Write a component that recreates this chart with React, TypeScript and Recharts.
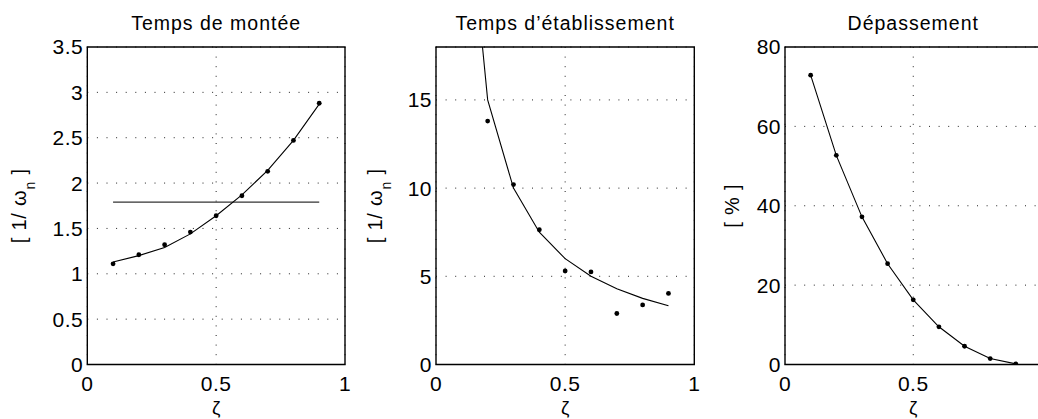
import React from 'react';
import { LineChart, Line, XAxis, YAxis, CartesianGrid, ReferenceArea, ReferenceLine } from 'recharts';

// damping ratio values where the step responses were measured
const zeta = [0.1, 0.2, 0.3, 0.4, 0.5, 0.6, 0.7, 0.8, 0.9];

// rise time [1/wn]
const riseMeasured = [1.11, 1.21, 1.32, 1.46, 1.64, 1.86, 2.13, 2.47, 2.88];
const riseFit = [1.13, 1.2, 1.29, 1.44, 1.64, 1.87, 2.14, 2.47, 2.87];
const riseMean = 1.79;
const riseTicks = [0, 0.5, 1, 1.5, 2, 2.5, 3, 3.5];

// settling time [1/wn]
const settleMeasured = [null, 13.8, 10.2, 7.64, 5.3, 5.25, 2.89, 3.38, 4.03];
const settleFit = [30, 15, 10, 7.5, 6, 5, 4.29, 3.75, 3.33];
const settleTicks = [0, 5, 10, 15];

// overshoot [%]
const overshoot = [72.9, 52.7, 37.2, 25.4, 16.3, 9.5, 4.6, 1.5, 0.15];
const overshootTicks = [0, 20, 40, 60, 80];

const xTicks = [0, 0.5, 1];
// the last panel is cut by the figure edge, its "1" is not visible
const xTicksCut = [0, 0.5];

const FONT = '"Liberation Sans", Arial, Helvetica, sans-serif';
const tickStyle = { fontSize: 21, fill: '#000', fontFamily: FONT, letterSpacing: 0.5 };

const riseData = zeta.map((z, i) => ({ z, m: riseMeasured[i], f: riseFit[i] }));
const settleData = zeta.map((z, i) => ({ z, m: settleMeasured[i], f: settleFit[i] }));
const overshootData = zeta.map((z, i) => ({ z, m: overshoot[i], f: overshoot[i] }));

const Y_AXIS_W = 40;
const X_AXIS_H = 40;
const PLOT_TOP = 47;
const PLOT_BOTTOM = 364.5;

type PanelProps = {
  left: number;
  width: number;
  plotLeft: number;
  plotRight: number;
  data: any[];
  xTickValues: number[];
  yMax: number;
  yTicks: number[];
  title: string;
  yLabelX: number;
  percent?: boolean;
  children?: React.ReactNode;
};

const Panel = ({
  left,
  width,
  plotLeft,
  plotRight,
  data,
  xTickValues,
  yMax,
  yTicks,
  title,
  yLabelX,
  percent,
  children,
}: PanelProps) => {
  const margin = {
    top: PLOT_TOP,
    right: width - plotRight,
    bottom: 419 - PLOT_BOTTOM - X_AXIS_H,
    left: plotLeft - Y_AXIS_W,
  };
  const cx = (plotLeft + plotRight) / 2;
  const cy = (PLOT_TOP + PLOT_BOTTOM) / 2;
  const labelProps = {
    transform: `translate(${yLabelX},${cy}) rotate(-90)`,
    textAnchor: 'middle' as const,
    fontSize: 20,
    fontFamily: FONT,
    letterSpacing: 0.8,
    fill: '#000',
  };
  return (
    <div style={{ position: 'absolute', left, top: 0 }}>
      <LineChart width={width} height={419} data={data} margin={margin}>
        <CartesianGrid stroke="#222" strokeDasharray="1 8.6" />
        <XAxis
          dataKey="z"
          type="number"
          domain={[0, 1]}
          ticks={xTickValues}
          interval={0}
          height={X_AXIS_H}
          tickSize={0}
          tickMargin={12}
          axisLine={false}
          fontSize={21}
          tick={tickStyle}
        />
        <YAxis
          type="number"
          domain={[0, yMax]}
          ticks={yTicks}
          interval={0}
          allowDataOverflow
          width={Y_AXIS_W}
          tickSize={0}
          tickMargin={4}
          axisLine={false}
          fontSize={21}
          tick={tickStyle}
        />
        <ReferenceArea x1={0} x2={1} y1={0} y2={yMax} fill="none" stroke="#000" strokeWidth={1.4} />
        {children}
        <Line dataKey="f" stroke="#000" strokeWidth={1.1} dot={false} isAnimationActive={false} type="linear" />
        <Line
          dataKey="m"
          stroke="none"
          dot={{ r: 2.4, fill: '#000', stroke: 'none' }}
          isAnimationActive={false}
          type="linear"
        />
        <text x={cx} y={29.5} textAnchor="middle" fontSize={19.5} fontFamily={FONT} letterSpacing={1} fill="#000">
          {title}
        </text>
        <text x={cx} y={414} textAnchor="middle" fontSize={19} fontFamily={FONT} fill="#000">
          ζ
        </text>
        {percent ? (
          <text {...labelProps}>[ % ]</text>
        ) : (
          <text {...labelProps}>
            [ 1/ ω
            <tspan dy={9} fontSize={14}>n</tspan>
            <tspan dy={-9}> ]</tspan>
          </text>
        )}
      </LineChart>
    </div>
  );
};

export default function App() {
  return (
    <div
      style={{
        position: 'absolute',
        left: 0,
        top: 0,
        width: 1038,
        height: 419,
        overflow: 'hidden',
        background: '#fff',
      }}
    >
      <Panel
        left={0}
        width={360}
        plotLeft={87.3}
        plotRight={345}
        data={riseData}
        xTickValues={xTicks}
        yMax={3.5}
        yTicks={riseTicks}
        title="Temps de montée"
        yLabelX={26}
      >
        <ReferenceLine
          segment={[
            { x: 0.1, y: riseMean },
            { x: 0.9, y: riseMean },
          ]}
          stroke="#333"
          strokeWidth={1.4}
        />
      </Panel>
      <Panel
        left={360}
        width={345}
        plotLeft={76}
        plotRight={334.3}
        data={settleData}
        xTickValues={xTicks}
        yMax={18}
        yTicks={settleTicks}
        title="Temps d’établissement"
        yLabelX={21.7}
      />
      <Panel
        left={705}
        width={345}
        plotLeft={80}
        plotRight={336.5}
        data={overshootData}
        xTickValues={xTicksCut}
        yMax={80}
        yTicks={overshootTicks}
        title="Dépassement"
        yLabelX={34}
        percent
      />
    </div>
  );
}
